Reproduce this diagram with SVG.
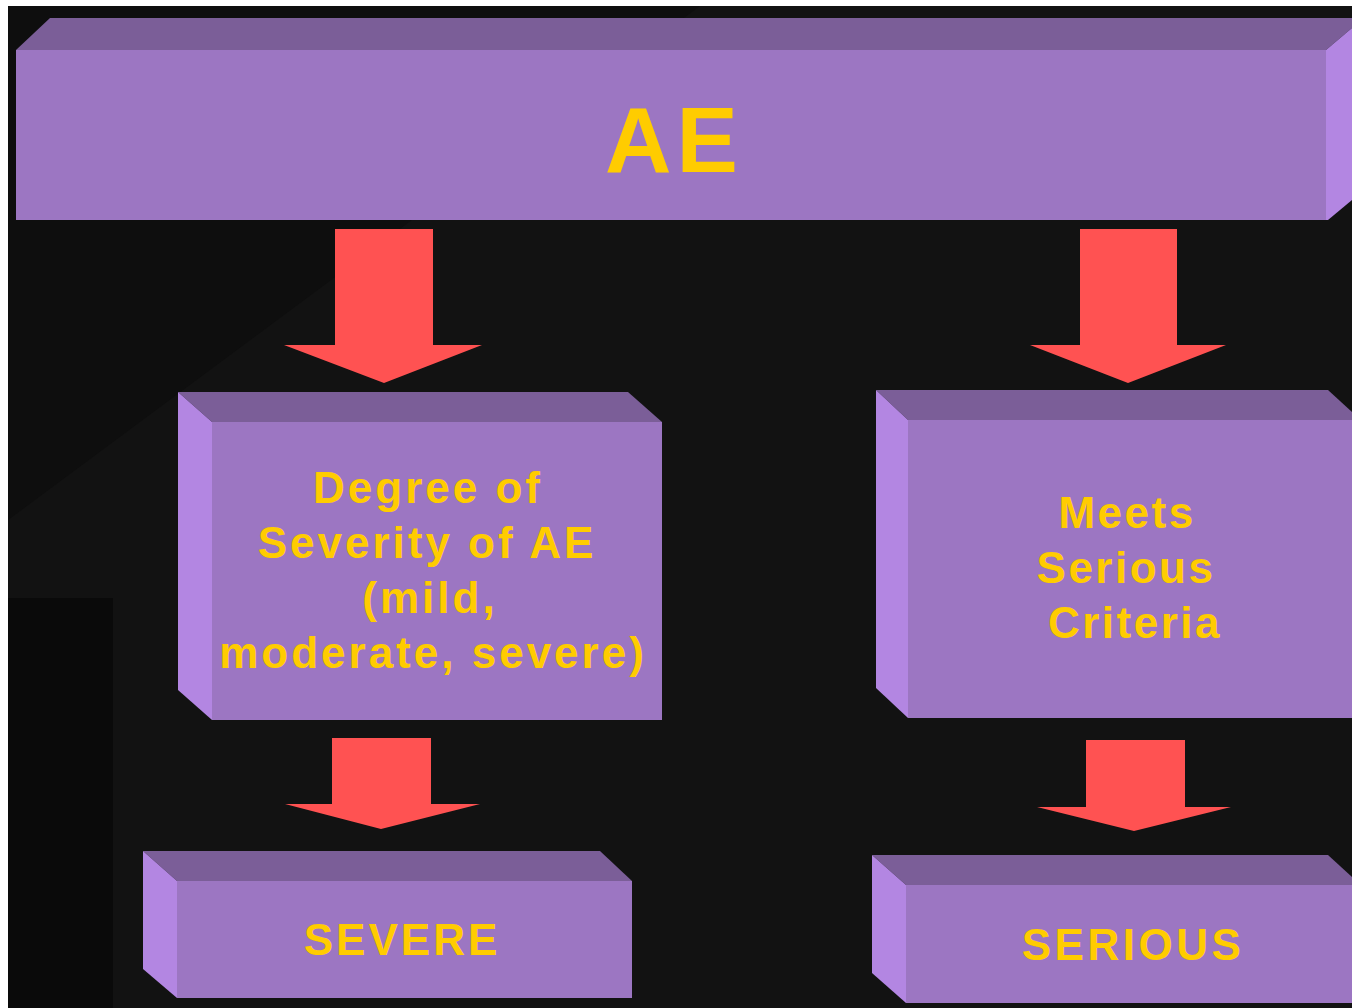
<svg xmlns="http://www.w3.org/2000/svg" width="1352" height="1008" viewBox="0 0 1352 1008">
<defs>
<style>
.top{fill:#7b5e98}
.front{fill:#9c76c2}
.side{fill:#b386e2}
.arrow{fill:#ff5252}
.lbl{font-family:"Liberation Sans",Arial,sans-serif;font-weight:bold;fill:#ffcc00;text-anchor:middle}
</style>
</defs>
<rect x="0" y="0" width="1352" height="1008" fill="#ffffff"/>
<rect x="8" y="6" width="1344" height="1002" fill="#121212"/>
<polygon points="8,6 700,6 8,520" fill="#0e0e0e"/>
<rect x="8" y="598" width="105" height="410" fill="#0a0a0a"/>
<g id="node-ae">
<polygon class="top" points="50,18 1352,18 1352,28 1326,50 16,50"/>
<rect class="front" x="16" y="50" width="1312" height="170"/>
<polygon class="side" points="1326,50 1352,28 1352,200 1328,220 1326,220"/>
<text class="lbl" x="674" y="172" font-size="92" letter-spacing="5">AE</text>
</g>
<g id="node-degree">
<polygon class="top" points="178,392 628,392 662,422 212,422"/>
<rect class="front" x="212" y="422" width="450" height="298"/>
<polygon class="side" points="178,392 212,422 212,720 178,690"/>
<text class="lbl" font-size="44" letter-spacing="3"><tspan x="428" y="503">Degree of</tspan><tspan x="427" y="558">Severity of AE</tspan><tspan x="430" y="613">(mild,</tspan><tspan x="433" y="668">moderate, severe)</tspan></text>
</g>
<g id="node-meets">
<polygon class="top" points="876,390 1328,390 1352,412 1352,420 908,420"/>
<rect class="front" x="908" y="420" width="444" height="298"/>
<polygon class="side" points="876,390 908,420 908,718 876,688"/>
<text class="lbl" font-size="44" letter-spacing="2.5"><tspan x="1127" y="528">Meets</tspan><tspan x="1126" y="583">Serious</tspan><tspan x="1135" y="638">Criteria</tspan></text>
</g>
<g id="node-severe">
<polygon class="top" points="143,851 600,851 632,881 177,881"/>
<rect class="front" x="177" y="881" width="455" height="117"/>
<polygon class="side" points="143,851 177,881 177,998 143,969"/>
<text class="lbl" x="402" y="955" font-size="44" letter-spacing="3">SEVERE</text>
</g>
<g id="node-serious">
<polygon class="top" points="872,855 1328,855 1352,877 1352,885 906,885"/>
<rect class="front" x="906" y="885" width="446" height="118"/>
<polygon class="side" points="872,855 906,885 906,1003 872,973"/>
<text class="lbl" x="1133" y="960" font-size="44" letter-spacing="3.5">SERIOUS</text>
</g>
<g id="connectors">
<polygon class="arrow" points="335,229 433,229 433,345 482,345 384,383 284,345 335,345"/>
<polygon class="arrow" points="1080,229 1177,229 1177,345 1226,345 1128,383 1030,345 1080,345"/>
<polygon class="arrow" points="332,738 431,738 431,804 480,804 381,829 285,804 332,804"/>
<polygon class="arrow" points="1086,740 1185,740 1185,807 1231,807 1134,831 1037,807 1086,807"/>
</g>
</svg>
